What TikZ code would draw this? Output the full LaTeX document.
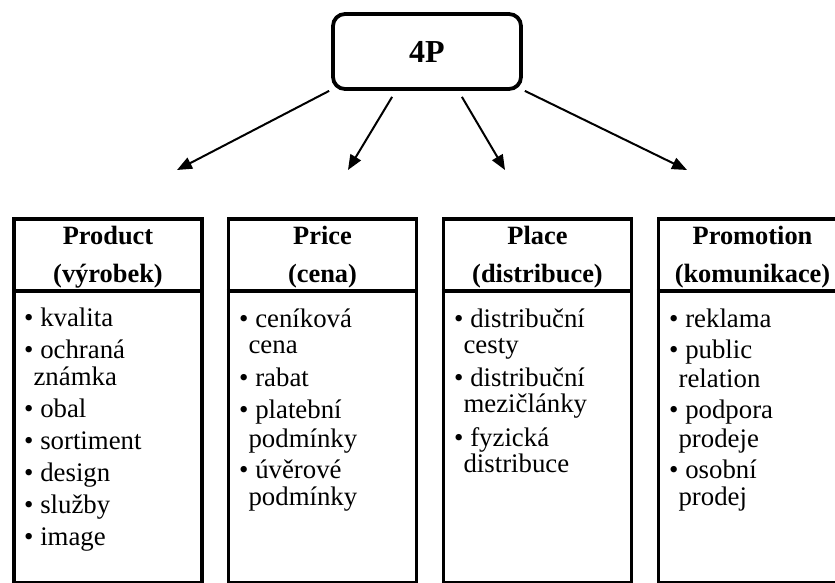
\documentclass[tikz,border=0pt]{standalone}
\usepackage{fontspec}
\setmainfont{Liberation Serif}
\usetikzlibrary{arrows.meta}
\newcommand\itbul{\textbullet\ }
\newcommand\itcont{\hphantom{\textbullet}}
\begin{document}
\begin{tikzpicture}[x=1pt,y=-1pt,
  box/.style={draw, line width=3.8pt, minimum width=188pt, minimum height=364pt, inner sep=0pt},
  divline/.style={line width=3.8pt},
  hdr/.style={font=\fontsize{26.4}{27}\selectfont\bfseries, anchor=base, inner sep=0pt},
  itm/.style={font=\fontsize{26.8}{27}\selectfont, anchor=base west, inner sep=0pt},
  arr/.style={line width=2pt, -{Triangle[length=15pt,width=12pt]}},
  topbox/.style={draw, line width=3.8pt, rounded corners=12pt, minimum width=188pt, minimum height=75pt, font=\fontsize{32}{34}\selectfont\bfseries}
]
\clip (0,0) rectangle (835,583);
\fill[white] (0,0) rectangle (835,583);

% top node
\node[topbox] (top) at (427,51.5) {4P};

% arrow tips
\coordinate (t1) at (177,170);
\coordinate (t2) at (348,170);
\coordinate (t3) at (505,170);
\coordinate (t4) at (687,170);
\draw[arr] ([xshift=-2pt]top.south west) -- (t1);
\draw[arr] ([xshift=61pt,yshift=-6pt]top.south west) -- (t2);
\draw[arr] ([xshift=-61pt,yshift=-6pt]top.south east) -- (t3);
\draw[arr] ([xshift=2pt]top.south east) -- (t4);

% boxes
\node[box] (b1) at (108,401) {};
\node[box] (b2) at (322.5,401) {};
\node[box] (b3) at (537.5,401) {};
\node[box] (b4) at (752.5,401) {};
\foreach \b in {b1,b2,b3,b4}
  \draw[divline] ([yshift=-73.5pt]\b.north west) -- ([yshift=-73.5pt]\b.north east);

% headers
\node[hdr] (h1a) at (108,244) {Product};
\node[hdr] (h1b) at (108,282) {(výrobek)};
\node[hdr] (h2a) at (322.5,244) {Price};
\node[hdr] (h2b) at (322.5,282) {(cena)};
\node[hdr] (h3a) at (537.5,244) {Place};
\node[hdr] (h3b) at (537.5,282) {(distribuce)};
\node[hdr] (h4a) at (752.5,244) {Promotion};
\node[hdr] (h4b) at (752.5,282) {(komunikace)};

% items
\foreach \y/\t [count=\i] in {326/{\itbul kvalita}, 358/{\itbul ochraná}, 385/{\itcont známka}, 417/{\itbul obal}, 449/{\itbul sortiment}, 481/{\itbul design}, 513/{\itbul služby}, 545/{\itbul image}}
  \node[itm] (pa\i) at (24,\y) {\t};
\foreach \y/\t [count=\i] in {327/{\itbul ceníková}, 353/{\itcont cena}, 386/{\itbul rabat}, 418/{\itbul platební}, 447/{\itcont podmínky}, 478/{\itbul úvěrové}, 505/{\itcont podmínky}}
  \node[itm] (pb\i) at (239,\y) {\t};
\foreach \y/\t [count=\i] in {327/{\itbul distribuční}, 353/{\itcont cesty}, 386/{\itbul distribuční}, 412/{\itcont mezičlánky}, 446/{\itbul fyzická}, 472/{\itcont distribuce}}
  \node[itm] (pc\i) at (454,\y) {\t};
\foreach \y/\t [count=\i] in {327/{\itbul reklama}, 358/{\itbul public}, 387/{\itcont relation}, 418/{\itbul podpora}, 447/{\itcont prodeje}, 478/{\itbul osobní}, 505/{\itcont prodej}}
  \node[itm] (pd\i) at (669,\y) {\t};
\end{tikzpicture}
\end{document}
